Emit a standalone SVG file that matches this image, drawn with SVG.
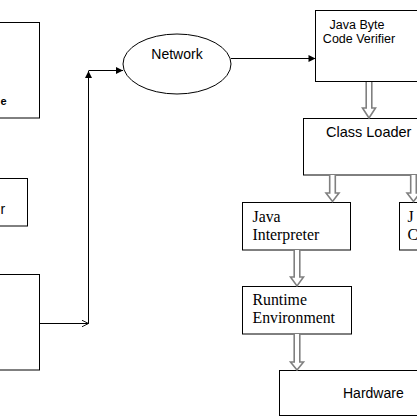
<svg xmlns="http://www.w3.org/2000/svg" width="417" height="417" viewBox="0 0 417 417">
<style>
.box{fill:#fff;stroke:#000;stroke-width:1}
.ln{fill:none;stroke:#000;stroke-width:1}
.blk{fill:#fff;stroke:#808080;stroke-width:1.6}
.sans{font-family:"Liberation Sans",Arial,sans-serif;fill:#000}
.serif{font-family:"Liberation Serif","Times New Roman",serif;fill:#000;font-size:15.8px}
</style>
<defs>
<marker id="fa" viewBox="0 0 10 10" refX="10" refY="5" markerWidth="8" markerHeight="7" orient="auto" markerUnits="userSpaceOnUse">
<path d="M0,0 L10,5 L0,10 z" fill="#000"/>
</marker>
<marker id="oa" viewBox="0 0 10 10" refX="10" refY="5" markerWidth="7" markerHeight="7" orient="auto" markerUnits="userSpaceOnUse">
<path d="M0,0 L10,5 L0,10" fill="none" stroke="#000" stroke-width="1.3"/>
</marker>
</defs>
<rect width="417" height="417" fill="#fff"/>
<g id="left-box-1">
<rect class="box" x="-10" y="22.5" width="49.5" height="95.5"/>
<text class="sans" x="0.5" y="105" font-size="11" font-weight="bold">e</text>
</g>
<g id="left-box-2">
<rect class="box" x="-10" y="178.5" width="37.5" height="47.5"/>
<text class="sans" x="0.5" y="214" font-size="14">r</text>
</g>
<g id="left-box-3">
<rect class="box" x="-10" y="274.5" width="49.5" height="95.5"/>
</g>
<g id="network">
<ellipse cx="177" cy="64" rx="54" ry="30" fill="#fff" stroke="#000" stroke-width="1"/>
<text class="sans" x="177" y="59" font-size="14" text-anchor="middle">Network</text>
</g>
<g id="verifier">
<rect class="box" x="315.5" y="10.5" width="110" height="71"/>
<text class="sans" x="357" y="29" font-size="12.5" text-anchor="middle">Java Byte</text>
<text class="sans" x="359" y="43" font-size="12.5" text-anchor="middle">Code Verifier</text>
</g>
<g id="class-loader">
<rect class="box" x="303.5" y="118.5" width="120" height="56.5"/>
<text class="sans" x="326" y="137" font-size="14.5">Class Loader</text>
</g>
<g id="java-interpreter">
<rect class="box" x="242.5" y="202.5" width="108" height="47.5"/>
<text class="serif" x="252.5" y="222">Java</text>
<text class="serif" x="252.5" y="240">Interpreter</text>
</g>
<g id="jit">
<rect class="box" x="399.5" y="202.5" width="30" height="47.5"/>
<text class="serif" x="407.5" y="222">J</text>
<text class="serif" x="407.5" y="240">C</text>
</g>
<g id="runtime">
<rect class="box" x="242.5" y="286.5" width="109" height="47.5"/>
<text class="serif" x="252.5" y="305">Runtime</text>
<text class="serif" x="252.5" y="323">Environment</text>
</g>
<g id="hardware">
<rect class="box" x="279.5" y="370.5" width="150" height="45"/>
<text class="sans" x="343" y="398" font-size="14">Hardware</text>
</g>
<g id="connectors">
<line class="ln" x1="39.5" y1="323.5" x2="88.5" y2="323.5" marker-end="url(#oa)"/>
<line class="ln" x1="88.5" y1="323.5" x2="88.5" y2="71" marker-end="url(#fa)"/>
<line class="ln" x1="88.5" y1="70.5" x2="123" y2="70.5" marker-end="url(#fa)"/>
<line class="ln" x1="231" y1="58.5" x2="315.5" y2="58.5" marker-end="url(#fa)"/>
<path class="blk" d="M366.2,82 V108 H362.5 L369,118 L375.5,108 H371.8 V82"/>
<path class="blk" d="M329.7,175 V193 H326 L332.5,201.5 L339,193 H335.3 V175"/>
<path class="blk" d="M410.7,175 V193 H407 L413.5,201.5 L420,193 H416.3 V175"/>
<path class="blk" d="M294.2,250 V277 H290.5 L297,286 L303.5,277 H299.8 V250"/>
<path class="blk" d="M294.2,334 V362 H290.5 L297,370 L303.5,362 H299.8 V334"/>
</g>
</svg>
